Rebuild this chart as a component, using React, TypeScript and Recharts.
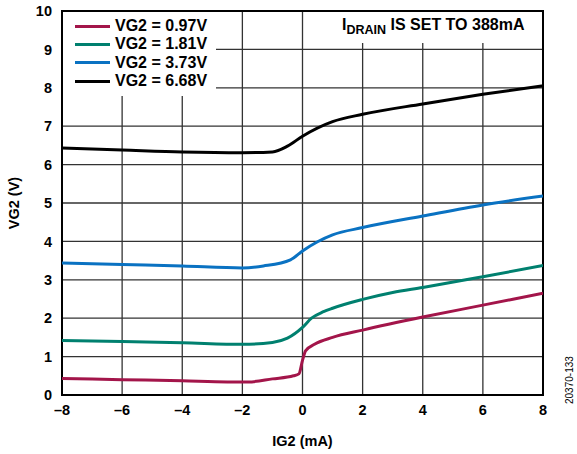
import React from 'react';
import {
  LineChart,
  Line,
  XAxis,
  YAxis,
  CartesianGrid,
  ReferenceArea,
  Label,
} from 'recharts';

type Pt = { x: number; y: number };

const xTicks = [-8, -6, -4, -2, 0, 2, 4, 6, 8];
const yTicks = [0, 1, 2, 3, 4, 5, 6, 7, 8, 9, 10];

const seriesNames = ['VG2 = 0.97V', 'VG2 = 1.81V', 'VG2 = 3.73V', 'VG2 = 6.68V'];
const seriesColors = ['#A3154A', '#00806F', '#0A72C2', '#000000'];

const ig2Low = [-8, -6, -4, -2.5, -1.8, -1, -0.3, -0.12, 0, 0.1, 0.4, 1, 2, 4, 6, 8];
const vg2Low = [0.43, 0.4, 0.37, 0.34, 0.34, 0.42, 0.5, 0.55, 0.9, 1.15, 1.32, 1.5, 1.69, 2.03, 2.34, 2.65];

const ig2Mid = [-8, -6, -4, -2, -1, -0.5, 0, 0.3, 0.7, 1, 2, 3, 4, 6, 8];
const vg2Mid = [1.42, 1.39, 1.36, 1.32, 1.37, 1.48, 1.76, 2.0, 2.17, 2.26, 2.49, 2.67, 2.8, 3.08, 3.37];

const ig2High = [-8, -6, -4, -2, -1.3, -0.4, 0, 0.5, 1, 2, 4, 6, 8];
const vg2High = [3.44, 3.4, 3.36, 3.31, 3.36, 3.52, 3.75, 3.99, 4.17, 4.36, 4.66, 4.95, 5.18];

const ig2Top = [-8, -6, -4, -2, -1, -0.5, 0, 1, 2, 4, 6, 8];
const vg2Top = [6.43, 6.38, 6.33, 6.31, 6.33, 6.48, 6.74, 7.12, 7.31, 7.58, 7.83, 8.05];

const toPts = (xs: number[], ys: number[]): Pt[] => xs.map((x, i) => ({ x, y: ys[i] }));

const series = [
  toPts(ig2Low, vg2Low),
  toPts(ig2Mid, vg2Mid),
  toPts(ig2High, vg2High),
  toPts(ig2Top, vg2Top),
];

const FONT = '"Liberation Sans", Arial, sans-serif';
const tickStyle = { fill: '#000', fontSize: 14.5, fontWeight: 700, fontFamily: FONT };
const fmt = (v: number) => (v < 0 ? `\u2013${-v}` : `${v}`);

export default function App() {
  return (
    <div style={{ position: 'absolute', left: 0, top: 0, width: 577, height: 454, background: '#fff', fontFamily: FONT }}>
      <LineChart width={577} height={454} margin={{ top: 11, right: 34, bottom: 0, left: 0 }}>
        <CartesianGrid stroke="#333" strokeWidth={1.3} />
        <XAxis
          type="number"
          dataKey="x"
          domain={[-8, 8]}
          ticks={xTicks}
          tickFormatter={fmt}
          axisLine={false}
          tickLine={false}
          tick={tickStyle}
          height={59}
          dy={2}
          allowDataOverflow
        >
          <Label value="IG2 (mA)" position="insideBottom" offset={8} style={tickStyle} />
        </XAxis>
        <YAxis
          type="number"
          domain={[0, 10]}
          ticks={yTicks}
          axisLine={false}
          tickLine={false}
          tick={tickStyle}
          width={62}
          dx={-2}
          allowDataOverflow
        >
          <Label value="VG2 (V)" angle={-90} position="insideLeft" offset={14} style={{ ...tickStyle, textAnchor: 'middle' }} />
        </YAxis>
        <ReferenceArea x1={-8} x2={8} y1={0} y2={10} fill="none" stroke="#000" strokeWidth={2} ifOverflow="visible" />
        {series.map((d, i) => (
          <Line
            key={seriesNames[i]}
            data={d}
            dataKey="y"
            type="monotone"
            stroke={seriesColors[i]}
            strokeWidth={3}
            dot={false}
            isAnimationActive={false}
          />
        ))}
      </LineChart>

      {/* legend box */}
      <div
        style={{
          position: 'absolute',
          left: 63,
          top: 12,
          width: 153,
          height: 84,
          background: '#fff',
          paddingTop: 5,
          boxSizing: 'border-box',
        }}
      >
        {seriesNames.map((n, i) => (
          <div key={n} style={{ display: 'flex', alignItems: 'center', height: 18.3 }}>
            <div style={{ marginLeft: 12, width: 35, height: 3, background: seriesColors[i] }} />
            <span style={{ marginLeft: 5, fontSize: 16, fontWeight: 700, color: '#000', lineHeight: 1 }}>{n}</span>
          </div>
        ))}
      </div>

      {/* annotation box */}
      <div
        style={{
          position: 'absolute',
          left: 318,
          top: 12,
          width: 224,
          height: 31,
          background: '#fff',
        }}
      >
        <div style={{ position: 'absolute', left: 24, top: 5, fontSize: 16, fontWeight: 700, whiteSpace: 'nowrap', lineHeight: 1 }}>
          I<sub style={{ fontSize: 12.5, verticalAlign: 'baseline', position: 'relative', top: 4 }}>DRAIN</sub> IS SET TO 388mA
        </div>
      </div>

      {/* figure id */}
      <div
        style={{
          position: 'absolute',
          left: 564,
          top: 404,
          transform: 'rotate(-90deg)',
          transformOrigin: 'left top',
          fontSize: 10,
          color: '#000',
          whiteSpace: 'nowrap',
        }}
      >
        20370-133
      </div>
    </div>
  );
}
